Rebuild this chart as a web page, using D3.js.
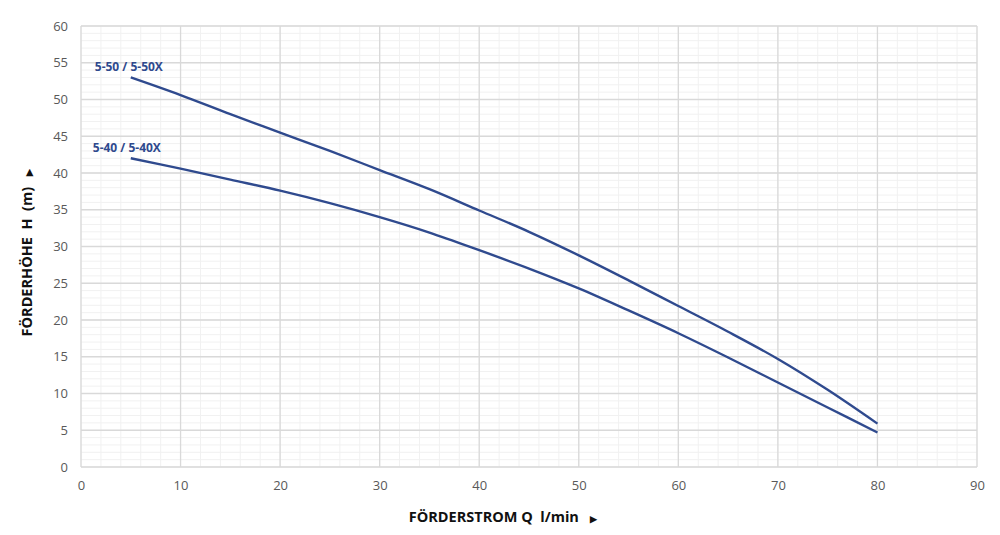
<!DOCTYPE html>
<html>
<head>
<meta charset="utf-8">
<script src="https://d3js.org/d3.v7.min.js"></script>
<style>
  body { margin: 0; background: #fff; font-family: "Open Sans", sans-serif; }
  text { white-space: pre; }
</style>
</head>
<body>
<svg id="chart"></svg>
<script>
// flow rate (l/min) and head (m)
const flow = [5, 10, 15, 20, 25, 30, 35, 40, 45, 50, 55, 60, 65, 70, 75, 80];
const head550 = [53, 50.6, 48, 45.5, 43, 40.4, 37.8, 34.9, 32, 28.8, 25.4, 21.9, 18.4, 14.7, 10.5, 5.9];
const head540 = [42, 40.6, 39.1, 37.6, 35.9, 34.0, 31.9, 29.5, 27.0, 24.3, 21.3, 18.2, 14.9, 11.5, 8.1, 4.7];
const seriesNames = ["5-50 / 5-50X", "5-40 / 5-40X"];
const xTicks = [0, 10, 20, 30, 40, 50, 60, 70, 80, 90];
const yTicks = [0, 5, 10, 15, 20, 25, 30, 35, 40, 45, 50, 55, 60];

const W = 1000, H = 535;
const margin = { top: 26, right: 23, bottom: 68, left: 81 };
const width = W - margin.left - margin.right;
const height = H - margin.top - margin.bottom;

const svg = d3.select("#chart").attr("width", W).attr("height", H);
const g = svg.append("g").attr("transform", `translate(${margin.left},${margin.top})`);

const x = d3.scaleLinear().domain([0, 90]).range([0, width]);
const y = d3.scaleLinear().domain([0, 60]).range([height, 0]);

// minor grid
g.append("g").selectAll("line").data(d3.range(0, 91, 2))
  .join("line")
  .attr("x1", d => x(d)).attr("x2", d => x(d))
  .attr("y1", 0).attr("y2", height)
  .attr("stroke", "#f1f1f1").attr("stroke-width", 1);
g.append("g").selectAll("line").data(d3.range(0, 61, 1))
  .join("line")
  .attr("y1", d => y(d)).attr("y2", d => y(d))
  .attr("x1", 0).attr("x2", width)
  .attr("stroke", "#f1f1f1").attr("stroke-width", 1);

// major grid
g.append("g").selectAll("line").data(xTicks)
  .join("line")
  .attr("x1", d => x(d)).attr("x2", d => x(d))
  .attr("y1", 0).attr("y2", height)
  .attr("stroke", "#d9d9d9").attr("stroke-width", 1.3);
g.append("g").selectAll("line").data(yTicks)
  .join("line")
  .attr("y1", d => y(d)).attr("y2", d => y(d))
  .attr("x1", 0).attr("x2", width)
  .attr("stroke", "#d9d9d9").attr("stroke-width", 1.3);

// axes (labels only)
const xAxis = g.append("g")
  .attr("transform", `translate(0,${height})`)
  .call(d3.axisBottom(x).tickValues(xTicks).tickSize(0).tickPadding(14));
const yAxis = g.append("g")
  .call(d3.axisLeft(y).tickValues(yTicks).tickSize(0).tickPadding(13));
[xAxis, yAxis].forEach(a => {
  a.select(".domain").remove();
  a.selectAll("text").attr("fill", "#595959").style("font-size", "13px")
    .style("font-family", "'Open Sans', sans-serif");
});

// curves
const line = d3.line().x(d => x(d[0])).y(d => y(d[1])).curve(d3.curveCatmullRom);
const curves = [
  { name: seriesNames[0], pts: flow.map((f, i) => [f, head550[i]]) },
  { name: seriesNames[1], pts: flow.map((f, i) => [f, head540[i]]) }
];
g.selectAll(".curve").data(curves).join("path")
  .attr("class", "curve")
  .attr("d", d => line(d.pts))
  .attr("fill", "none")
  .attr("stroke", "#2f4a8e")
  .attr("stroke-width", 2.4);

// series labels
g.selectAll(".lbl").data(curves).join("text")
  .attr("class", "lbl")
  .attr("x", (d, i) => x(d.pts[0][0]) - 36 - i * 2)
  .attr("y", d => y(d.pts[0][1]) - 6)
  .attr("fill", "#2f4a8e")
  .style("font-size", "12px").style("font-weight", "bold")
  .text(d => d.name);

// axis titles
const yt = svg.append("text")
  .attr("transform", `translate(32,${margin.top + height / 2 + 6}) rotate(-90)`)
  .attr("text-anchor", "middle")
  .style("font-size", "14.5px").style("font-weight", "bold").attr("fill", "#111");
yt.append("tspan").text("FÖRDERHÖHE  H  (m)   ");
yt.append("tspan").style("font-size", "9px").text("▶");

const xt = svg.append("text")
  .attr("x", 503).attr("y", 522)
  .attr("text-anchor", "middle")
  .style("font-size", "14.5px").style("font-weight", "bold").attr("fill", "#111");
xt.append("tspan").text("FÖRDERSTROM Q  l/min   ");
xt.append("tspan").style("font-size", "9px").text("▶");
</script>
</body>
</html>
